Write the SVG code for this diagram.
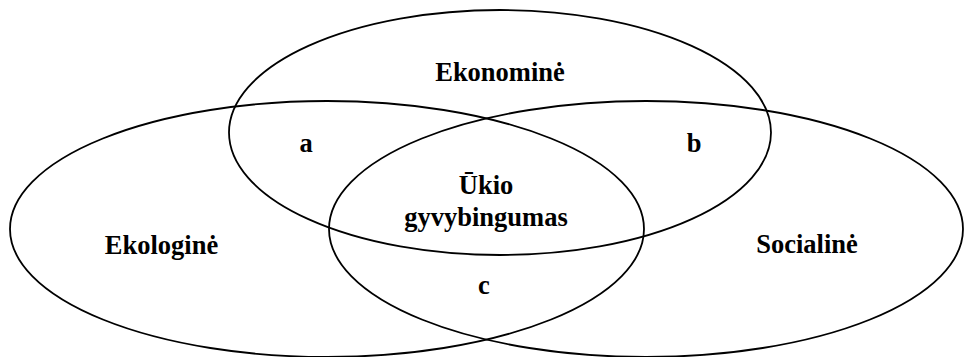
<svg xmlns="http://www.w3.org/2000/svg" width="964" height="357" viewBox="0 0 964 357">
  <style>
    .ring { fill: none; stroke: #000; stroke-width: 1.8; }
    .lbl { font-family: "Liberation Serif", "Times New Roman", serif; font-weight: bold; font-size: 26.5px; fill: #000; text-anchor: middle; }
  </style>
  <rect width="964" height="357" fill="#fff"/>
  <g id="ekonomine">
    <ellipse class="ring" cx="500" cy="132.5" rx="271" ry="122.5"/>
    <text class="lbl" x="500" y="81">Ekonominė</text>
  </g>
  <g id="ekologine">
    <ellipse class="ring" cx="327" cy="229" rx="317" ry="128"/>
    <text class="lbl" x="161.5" y="254">Ekologinė</text>
  </g>
  <g id="socialine">
    <ellipse class="ring" cx="646" cy="229" rx="317" ry="128"/>
    <text class="lbl" x="807" y="253">Socialinė</text>
  </g>
  <g id="ukio-gyvybingumas">
    <text class="lbl" x="486" y="194">Ūkio</text>
    <text class="lbl" x="486" y="226">gyvybingumas</text>
  </g>
  <g id="region-a">
    <text class="lbl" x="306" y="152">a</text>
  </g>
  <g id="region-b">
    <text class="lbl" x="694" y="152">b</text>
  </g>
  <g id="region-c">
    <text class="lbl" x="484" y="294">c</text>
  </g>
  <g id="connectors"/>
</svg>
